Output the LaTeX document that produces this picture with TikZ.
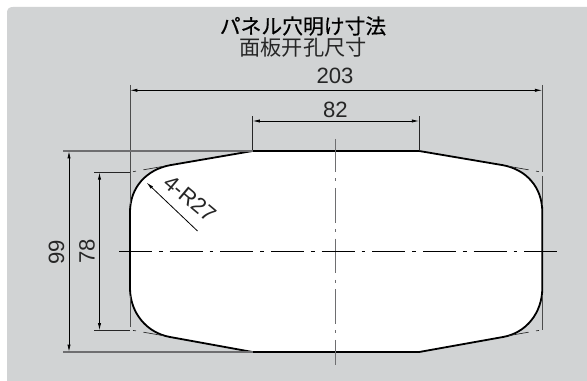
\documentclass[tikz,border=0pt]{standalone}
\usepackage{fontspec}
\setmainfont{Liberation Sans}
\newfontfamily\cjk{Noto Sans CJK JP}
\newfontfamily\cjkb[FakeBold=0.5]{Noto Sans CJK JP}
\usetikzlibrary{arrows.meta}
\definecolor{panel}{RGB}{209,211,212}
\definecolor{cgray}{RGB}{110,110,112}
\tikzset{
 x=0.75pt,y=-0.75pt,
 thinline/.style={line width=0.5pt,black!85},
 grayline/.style={line width=0.95pt,cgray},
 extline/.style={line width=0.75pt,black!70},
 outline/.style={line width=1.35pt,black,line join=round},
 dimline/.style={line width=0.6pt,black,{Latex[length=5.5pt,width=2.4pt]}-{Latex[length=5.5pt,width=2.4pt]}},
 lbl/.style={inner sep=0pt,font=\fontsize{16.6pt}{17pt}\selectfont,text=black!85}
}
\begin{document}
\begin{tikzpicture}
\useasboundingbox (0,0) rectangle (587,381);
\fill[white] (0,0) rectangle (587,381);
\fill[panel] (7,13) .. controls (7,9) and (9,7) .. (13,7) -- (587,7) -- (587,381) -- (7,381) -- cycle;
% named coordinates
\coordinate (tl) at (252.5,151);
\coordinate (tr) at (419.2,151);
\coordinate (bl) at (252.5,352);
\coordinate (br) at (419.2,352);
% opening
\draw[outline,fill=white] (tl) -- (tr) -- (503,165.2)
 .. controls (526,169.5) and (542.3,187) .. (542.3,212)
 -- (542.3,288)
 .. controls (542.3,313) and (526,333) .. (503,337)
 -- (br) -- (bl) -- (170,337)
 .. controls (147,333) and (130,313) .. (130,288)
 -- (130,212)
 .. controls (130,187) and (147,169.5) .. (170,165.2) -- cycle;
% virtual corner lines
\draw[thinline] (163,166.4) -- (143.5,169.8) (136,171.1) -- (133,171.7);
\draw[thinline] (509,166.4) -- (528.5,169.8) (536,171.1) -- (539,171.7);
\draw[thinline] (163,335.6) -- (143.5,332.2) (136,330.9) -- (133,330.4);
\draw[thinline] (509,335.6) -- (528.5,332.2) (536,330.9) -- (539,330.4);
% extension lines
\draw[extline] (130,85) -- (130,204);
\draw[extline] (542.3,85) -- (542.3,172) (542.3,176) -- (542.3,205);
\draw[extline] (130,296) -- (130,327);
\draw[extline] (542.3,296) -- (542.3,330.5);
\draw[thinline] (252.5,116.5) -- (tl);
\draw[thinline] (419.2,116.5) -- (tr);
\draw[grayline] (63,151) -- (tl);
\draw[grayline] (63,352) -- (bl);
\draw[thinline] (94,172.3) -- (130,172.3);
\draw[thinline] (94,330.5) -- (130,330.5);
% centre lines
\draw[line width=0.95pt,cgray,dash pattern=on 26pt off 4.9pt on 2.25pt off 4.85pt,dash phase=1.3pt] (335.7,139) -- (335.7,365);
\draw[line width=0.55pt,black,dash pattern=on 24.7pt off 5.2pt on 2.9pt off 5.2pt] (119,251.3) -- (557,251.3);
% dimensions
\draw[dimline] (130,90.3) -- (542.3,90.3);
\draw[dimline] (252.5,121) -- (419.2,121);
\draw[dimline] (69,151) -- (69,352);
\draw[dimline] (99.5,172.3) -- (99.5,330.5);
\coordinate (rA) at (146.5,182.5);
\coordinate (rB) at (197.5,231);
\draw[line width=0.6pt,black,{Latex[length=5.5pt,width=2.4pt]}-] (rA) -- (rB);
% labels
\node[lbl] (t203) at (335,76) {203};
\node[lbl] (t82) at (335.5,110) {82};
\node[lbl,rotate=90] (t99) at (56.5,252) {99};
\node[lbl,rotate=90] (t78) at (87,251) {78};
\node[lbl,rotate=-40] (tr27) at (190,198.5) {4-R27};
\node[inner sep=0pt,font=\fontsize{15.6pt}{16pt}\cjkb] (title1) at (303,26) {パネル穴明け寸法};
\node[inner sep=0pt,font=\fontsize{15.9pt}{16pt}\cjk,text=black!85] (title2) at (303,47) {面板开孔尺寸};
\end{tikzpicture}
\end{document}
